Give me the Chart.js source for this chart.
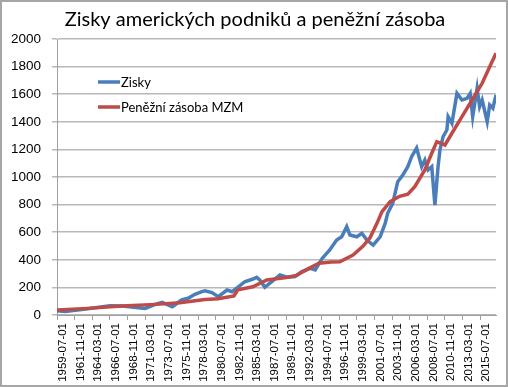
<!DOCTYPE html>
<html>
<head>
<meta charset="utf-8">
<script src="https://cdn.jsdelivr.net/npm/chart.js@4.4.0/dist/chart.umd.min.js"></script>
<style>
  html, body { margin: 0; padding: 0; background: #fff; }
  #wrap { width: 508px; height: 387px; }
</style>
</head>
<body>
<div id="wrap"><canvas id="myChart" width="508" height="387"></canvas></div>
<script>
// zisky (corporate profits)
var profitDates = [
  "1959-07","1960-08","1963-08","1966-07","1968-02","1970-04","1971-03","1972-07",
  "1973-06","1974-10","1976-01","1976-11","1977-10","1978-09","1979-02","1980-01",
  "1980-11","1982-01","1982-09","1983-06","1984-05","1985-05","1985-12","1986-05",
  "1987-01","1987-12","1989-01","1990-02","1991-01","1991-12","1993-01","1993-09",
  "1994-08","1995-08","1996-07","1997-03","1997-11","1998-04","1999-03","1999-11",
  "2000-07","2001-05","2002-04","2002-12","2003-04","2003-12","2004-08","2005-04",
  "2005-12","2006-06","2007-02","2007-10","2008-03","2008-08","2009-02","2009-07",
  "2009-12","2010-03","2010-08","2011-02","2011-04","2011-10","2012-06","2013-02",
  "2013-10","2014-03","2014-07","2015-02","2015-06","2015-10","2016-06","2016-10",
  "2017-03","2017-08"
];
var profitValues = [
  30, 26, 45, 67, 65, 53, 48, 77,
  92, 60, 109, 121, 150, 169, 176, 162,
  133, 181, 169, 201, 241, 259, 273, 254,
  201, 241, 290, 273, 278, 314, 338, 326,
  410, 471, 543, 567, 640, 580, 567, 592,
  543, 507, 567, 664, 737, 809, 966, 1014,
  1075, 1147, 1210, 1075, 1123, 1051, 1075, 797,
  1075, 1196, 1292, 1340, 1437, 1389, 1606, 1558,
  1570, 1606, 1437, 1643, 1510, 1558, 1401, 1522,
  1498, 1594
];

// penezni zasoba MZM
var mzmDates = [
  "1959-07","1963-08","1968-02","1972-07","1975-10","1979-02","1980-11","1982-12",
  "1983-06","1985-06","1987-04","1989-11","1991-03","1992-11","1994-03","1995-10",
  "1996-12","1998-09","2000-01","2000-12","2001-11","2002-07","2003-08","2004-11",
  "2005-12","2006-11","2008-03","2009-02","2009-10","2010-11","2011-10","2013-02",
  "2014-06","2015-10","2016-10","2017-08"
];
var mzmValues = [
  36, 48, 65, 77, 89, 113, 118, 138,
  183, 205, 254, 272, 287, 338, 375, 384,
  385, 435, 500, 560, 664, 749, 821, 860,
  875, 930, 1051, 1172, 1256, 1232, 1317, 1437,
  1558, 1679, 1799, 1896
];

var tickLabels = [
  "1959-07-01","1961-11-01","1964-03-01","1966-07-01","1968-11-01","1971-03-01",
  "1973-07-01","1975-11-01","1978-03-01","1980-07-01","1982-11-01","1985-03-01",
  "1987-07-01","1989-11-01","1992-03-01","1994-07-01","1996-11-01","1999-03-01",
  "2001-07-01","2003-11-01","2006-03-01","2008-07-01","2010-11-01","2013-03-01",
  "2015-07-01"
];

var titleText = "Zisky amerických podniků a peněžní zásoba";
var lastMonth = "2017-08";

function monthIndex(s) {
  var p = s.split("-");
  return (parseInt(p[0]) - 1959) * 12 + (parseInt(p[1]) - 7);
}

function toPoints(dates, values) {
  var pts = [];
  for (var i = 0; i < dates.length; i++) {
    pts.push({ x: monthIndex(dates[i]), y: values[i] });
  }
  return pts;
}

var blue = "#4a7ebb";
var red = "#be4b48";

var frame = {
  id: "frame",
  beforeDraw: function (chart) {
    var ctx = chart.ctx;
    ctx.save();
    ctx.fillStyle = "#fff";
    ctx.fillRect(0, 0, chart.width, chart.height);
    ctx.restore();
  },
  afterDraw: function (chart) {
    var ctx = chart.ctx;
    var area = chart.chartArea;
    ctx.save();
    // border
    ctx.strokeStyle = "#a6a6a6";
    ctx.lineWidth = 2;
    ctx.strokeRect(1, 1, chart.width - 2, chart.height - 2);
    // title
    ctx.fillStyle = "#000";
    ctx.font = "20px Lato";
    ctx.textAlign = "center";
    ctx.textBaseline = "alphabetic";
    ctx.fillText(titleText, 255, 26);
    // legend inside the plot
    ctx.font = "13px Lato";
    ctx.textAlign = "left";
    ctx.textBaseline = "middle";
    var rows = [82, 107];
    chart.data.datasets.forEach(function (ds, i) {
      var y = rows[i];
      ctx.strokeStyle = ds.borderColor;
      ctx.lineWidth = 3.5;
      ctx.beginPath();
      ctx.moveTo(area.left + 41, y);
      ctx.lineTo(area.left + 63, y);
      ctx.stroke();
      ctx.fillStyle = "#000";
      ctx.fillText(ds.label, area.left + 64, y + 1);
    });
    ctx.restore();
  }
};

new Chart("myChart", {
  type: "line",
  data: {
    datasets: [{
      label: "Zisky",
      data: toPoints(profitDates, profitValues),
      borderColor: blue,
      backgroundColor: blue,
      borderWidth: 3.5,
      pointRadius: 0,
      tension: 0,
      order: 2
    }, {
      label: "Peněžní zásoba MZM",
      data: toPoints(mzmDates, mzmValues),
      borderColor: red,
      backgroundColor: red,
      borderWidth: 3.5,
      pointRadius: 0,
      tension: 0,
      order: 1
    }]
  },
  options: {
    responsive: false,
    animation: false,
    layout: { padding: { top: 39, right: 12, left: 0, bottom: 0 } },
    plugins: {
      legend: { display: false },
      title: { display: false },
      tooltip: { enabled: false }
    },
    scales: {
      x: {
        type: "linear",
        min: 0,
        max: monthIndex(lastMonth),
        afterFit: function (s) { s.height = 72; },
        afterBuildTicks: function (s) {
          s.ticks = tickLabels.map(function (t) { return { value: monthIndex(t.slice(0, 7)) }; });
        },
        grid: { drawOnChartArea: false, tickLength: 5, color: "#a0a0a0" },
        border: { display: true, color: "#a0a0a0", width: 1 },
        ticks: {
          autoSkip: false,
          maxRotation: 90,
          minRotation: 90,
          labelOffset: 6,
          padding: 3,
          color: "#000",
          font: { family: "Liberation Sans", size: 11.5 },
          callback: function (v) {
            for (var i = 0; i < tickLabels.length; i++) {
              if (monthIndex(tickLabels[i].slice(0, 7)) === v) return tickLabels[i];
            }
            return "";
          }
        }
      },
      y: {
        min: 0,
        max: 2000,
        afterFit: function (s) { s.width = 57; },
        grid: { color: "#b8b8b8", lineWidth: 1.5, tickLength: 5 },
        border: { display: true, color: "#a0a0a0", width: 1 },
        ticks: {
          stepSize: 200,
          padding: 11,
          color: "#000",
          font: { family: "Liberation Sans", size: 13.5 },
          callback: function (v) { return String(v); }
        }
      }
    }
  },
  plugins: [frame]
});
</script>
</body>
</html>
